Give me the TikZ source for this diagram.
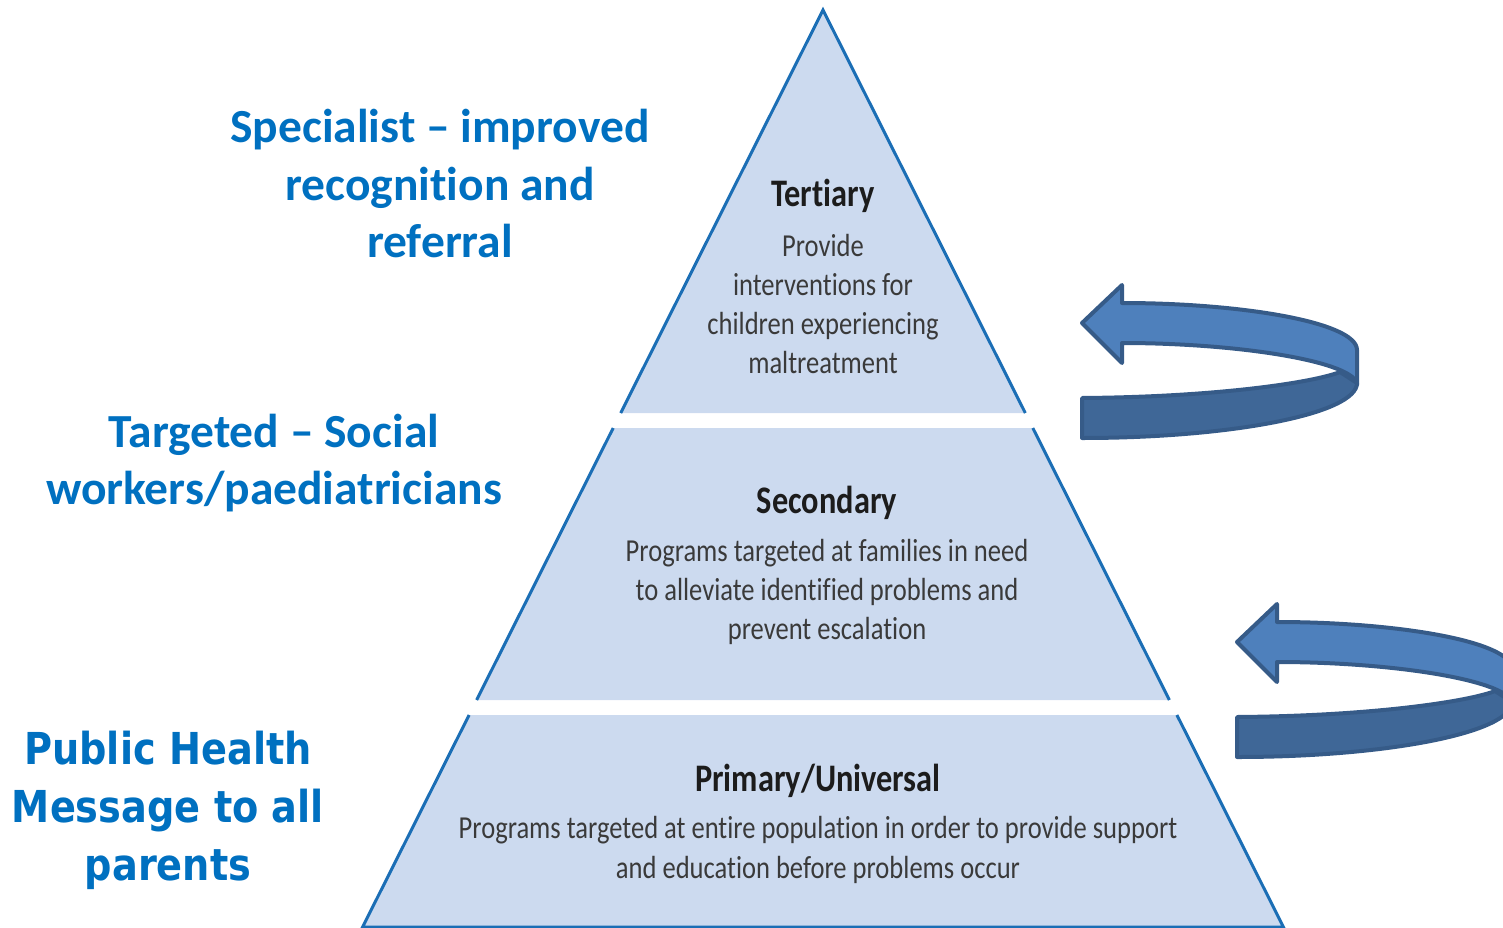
\documentclass[tikz,border=0pt]{standalone}
\usepackage{fontspec}
\usepackage{tikz}
\usetikzlibrary{backgrounds}

\newfontfamily\sidefont[Ligatures=NoCommon]{Carlito}
\newfontfamily\pubfont[FakeStretch=0.87]{DejaVu Sans}
\newfontfamily\pyrfont[FakeStretch=0.83, Ligatures=NoCommon]{Carlito}

\definecolor{sideblue}{HTML}{0070C0}
\definecolor{pyrfill}{HTML}{CCDAEF}
\definecolor{pyredge}{HTML}{1B6EB5}
\definecolor{pyrtext}{HTML}{3A3A3A}
\definecolor{pyrtitle}{HTML}{1C1C1C}
\definecolor{turnlight}{HTML}{4E80BC}
\definecolor{turndark}{HTML}{3F6797}
\definecolor{turnline}{HTML}{365B88}

\tikzset{
  level/.style={fill=pyrfill},
  leveledge/.style={draw=pyredge, line width=3},
  leveltitle/.style={text=pyrtitle, align=center, inner sep=0,
    font=\pyrfont\bfseries\fontsize{39}{47}\selectfont},
  levelbody/.style={text=pyrtext, align=center, inner sep=0,
    font=\pyrfont\fontsize{32}{39.3}\selectfont},
  sidelabel/.style={text=sideblue, align=center, inner sep=0,
    font=\sidefont\bfseries\fontsize{47.5}{57.5}\selectfont},
  turnback/.style={fill=turnlight, draw=turnline, line width=4, line join=round},
  turnfront/.style={fill=turndark, draw=turnline, line width=4, line join=round}
}

\begin{document}
\begin{tikzpicture}[x=1pt, y=-1pt]
  \useasboundingbox (0,0) rectangle (1503,928);
  \coordinate (apex) at (823, 10);

  % tertiary
  \fill[level] (620.7,413) -- (apex) -- (1025.3,413) -- cycle;
  \draw[leveledge] (620.7,413) -- (apex) -- (1025.3,413);
  % secondary
  \fill[level] (613.2,428) -- (1032.8,428) -- (1169.4,700) -- (476.6,700) -- cycle;
  \draw[leveledge] (613.2,428) -- (476.6,700);
  \draw[leveledge] (1032.8,428) -- (1169.4,700);
  % primary
  \fill[level] (469.1,715) -- (1176.9,715) -- (1283.4,927) -- (362.6,927) -- cycle;
  \draw[leveledge] (469.1,715) -- (362.6,927) -- (1283.4,927) -- (1176.9,715);

  \node[leveltitle] (tertTitle) at (823,196) {Tertiary};
  \node[levelbody] (tertBody) at (823,304) {Provide\\interventions for\\children experiencing\\maltreatment};
  \node[leveltitle] (secTitle) at (827,503) {Secondary};
  \node[levelbody] (secBody) at (827,592) {Programs targeted at families in need\\to alleviate identified problems and\\prevent escalation};
  \node[leveltitle] (priTitle) at (818,781) {Primary/Universal};
  \node[levelbody] (priBody) at (818,850) {Programs targeted at entire population in order to provide support\\and education before problems occur};

  \node[sidelabel] (specLabel) at (440,184) {Specialist – improved\\recognition and\\referral};
  \node[sidelabel] (targLabel) at (274,463) {Targeted – Social\\workers/paediatricians};
  \node[sidelabel, font=\pubfont\bfseries\fontsize{44}{58}\selectfont] (pubLabel) at (168,810) {Public Health\\Message to all\\parents};

  % turning arrows
  \begin{scope}
    \clip (0,0) rectangle (1503,928);
    \foreach \dx/\dy in {0/0, 155/319}
    {
      \begin{scope}[shift={(\dx,\dy)}]
        \filldraw[turnback] (1122,303) .. controls (1240,303) and (1357,322) .. (1357,350)
          -- (1357,385) .. controls (1357,362) and (1240,343) .. (1122,343)
          -- (1122,363) -- (1082,323) -- (1122,285) -- cycle;
        \filldraw[turnfront] (1082,398) .. controls (1220,397) and (1315,382) .. (1340,372)
          -- (1357,383) .. controls (1357,414) and (1230,438) .. (1082,438) -- cycle;
      \end{scope}
    }
  \end{scope}
\end{tikzpicture}
\end{document}
